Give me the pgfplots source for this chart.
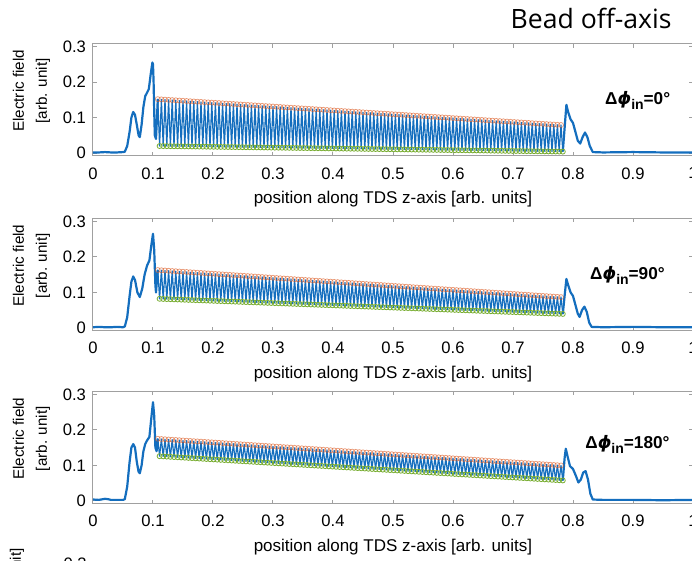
\documentclass[border=0pt]{standalone}
\usepackage{fontspec}
\setmainfont{Liberation Sans}
\newfontfamily\titlefont{Open Sans}
\newfontfamily\dvsans{DejaVu Sans}
\usepackage{pgfplots}
\usepackage{pgfplotstable}
\pgfplotsset{compat=1.18}
\definecolor{mblue}{RGB}{20,110,190}
\definecolor{morange}{RGB}{217,83,25}
\definecolor{mgreen}{RGB}{119,172,48}
\definecolor{axgray}{RGB}{160,160,160}

\pgfplotstableread{
x y1 y2 y3
0.108 0.15200 0.16300 0.17500
0.111 0.02000 0.08200 0.12600
0.114 0.15135 0.16232 0.17433
0.117 0.01986 0.08162 0.12539
0.120 0.15070 0.16164 0.17366
0.123 0.01972 0.08124 0.12478
0.126 0.15005 0.16096 0.17299
0.129 0.01958 0.08086 0.12417
0.132 0.14940 0.16028 0.17232
0.135 0.01944 0.08048 0.12356
0.138 0.14875 0.15960 0.17165
0.141 0.01930 0.08010 0.12295
0.144 0.14810 0.15892 0.17098
0.147 0.01916 0.07972 0.12234
0.150 0.14745 0.15824 0.17031
0.153 0.01902 0.07934 0.12173
0.156 0.14680 0.15756 0.16964
0.159 0.01888 0.07896 0.12112
0.162 0.14615 0.15688 0.16897
0.165 0.01874 0.07858 0.12051
0.168 0.14550 0.15620 0.16830
0.171 0.01860 0.07820 0.11990
0.174 0.14485 0.15552 0.16763
0.177 0.01846 0.07782 0.11929
0.180 0.14420 0.15484 0.16696
0.183 0.01832 0.07744 0.11868
0.186 0.14355 0.15416 0.16629
0.189 0.01818 0.07706 0.11807
0.192 0.14290 0.15348 0.16562
0.195 0.01804 0.07668 0.11746
0.198 0.14225 0.15280 0.16495
0.201 0.01790 0.07630 0.11685
0.204 0.14160 0.15212 0.16428
0.207 0.01776 0.07592 0.11624
0.210 0.14095 0.15144 0.16361
0.213 0.01762 0.07554 0.11563
0.216 0.14030 0.15076 0.16294
0.219 0.01748 0.07516 0.11502
0.222 0.13965 0.15008 0.16227
0.225 0.01734 0.07478 0.11441
0.228 0.13900 0.14940 0.16160
0.231 0.01720 0.07440 0.11380
0.234 0.13835 0.14872 0.16093
0.237 0.01706 0.07402 0.11319
0.240 0.13770 0.14804 0.16026
0.243 0.01692 0.07364 0.11258
0.246 0.13705 0.14736 0.15959
0.249 0.01678 0.07326 0.11197
0.252 0.13640 0.14668 0.15892
0.255 0.01664 0.07288 0.11136
0.258 0.13575 0.14600 0.15825
0.261 0.01650 0.07250 0.11075
0.264 0.13510 0.14532 0.15758
0.267 0.01636 0.07212 0.11014
0.270 0.13445 0.14464 0.15691
0.273 0.01622 0.07174 0.10953
0.276 0.13380 0.14396 0.15624
0.279 0.01608 0.07136 0.10892
0.282 0.13315 0.14328 0.15557
0.285 0.01594 0.07098 0.10831
0.288 0.13250 0.14260 0.15490
0.291 0.01580 0.07060 0.10770
0.294 0.13185 0.14192 0.15423
0.297 0.01566 0.07022 0.10709
0.300 0.13120 0.14124 0.15356
0.303 0.01552 0.06984 0.10648
0.306 0.13055 0.14056 0.15289
0.309 0.01538 0.06946 0.10587
0.312 0.12990 0.13988 0.15222
0.315 0.01524 0.06908 0.10526
0.318 0.12925 0.13920 0.15155
0.321 0.01510 0.06870 0.10465
0.324 0.12860 0.13852 0.15088
0.327 0.01496 0.06832 0.10404
0.330 0.12795 0.13784 0.15021
0.333 0.01482 0.06794 0.10343
0.336 0.12730 0.13716 0.14954
0.339 0.01468 0.06756 0.10282
0.342 0.12665 0.13648 0.14887
0.345 0.01454 0.06718 0.10221
0.348 0.12600 0.13580 0.14820
0.351 0.01440 0.06680 0.10160
0.354 0.12535 0.13512 0.14753
0.357 0.01426 0.06642 0.10099
0.360 0.12470 0.13444 0.14686
0.363 0.01412 0.06604 0.10038
0.366 0.12405 0.13376 0.14619
0.369 0.01398 0.06566 0.09977
0.372 0.12340 0.13308 0.14552
0.375 0.01384 0.06528 0.09916
0.378 0.12275 0.13240 0.14485
0.381 0.01370 0.06490 0.09855
0.384 0.12210 0.13172 0.14418
0.387 0.01356 0.06452 0.09794
0.390 0.12145 0.13104 0.14351
0.393 0.01342 0.06414 0.09733
0.396 0.12080 0.13036 0.14284
0.399 0.01328 0.06376 0.09672
0.402 0.12015 0.12968 0.14217
0.405 0.01314 0.06338 0.09611
0.408 0.11950 0.12900 0.14150
0.411 0.01300 0.06300 0.09550
0.414 0.11885 0.12832 0.14083
0.417 0.01286 0.06262 0.09489
0.420 0.11820 0.12764 0.14016
0.423 0.01272 0.06224 0.09428
0.426 0.11755 0.12696 0.13949
0.429 0.01258 0.06186 0.09367
0.432 0.11690 0.12628 0.13882
0.435 0.01244 0.06148 0.09306
0.438 0.11625 0.12560 0.13815
0.441 0.01230 0.06110 0.09245
0.444 0.11560 0.12492 0.13748
0.447 0.01216 0.06072 0.09184
0.450 0.11495 0.12424 0.13681
0.453 0.01202 0.06034 0.09123
0.456 0.11430 0.12356 0.13614
0.459 0.01188 0.05996 0.09062
0.462 0.11365 0.12288 0.13547
0.465 0.01174 0.05958 0.09001
0.468 0.11300 0.12220 0.13480
0.471 0.01160 0.05920 0.08940
0.474 0.11235 0.12152 0.13413
0.477 0.01146 0.05882 0.08879
0.480 0.11170 0.12084 0.13346
0.483 0.01132 0.05844 0.08818
0.486 0.11105 0.12016 0.13279
0.489 0.01118 0.05806 0.08757
0.492 0.11040 0.11948 0.13212
0.495 0.01104 0.05768 0.08696
0.498 0.10975 0.11880 0.13145
0.501 0.01090 0.05730 0.08635
0.504 0.10910 0.11812 0.13078
0.507 0.01076 0.05692 0.08574
0.510 0.10845 0.11744 0.13011
0.513 0.01062 0.05654 0.08513
0.516 0.10780 0.11676 0.12944
0.519 0.01048 0.05616 0.08452
0.522 0.10715 0.11608 0.12877
0.525 0.01034 0.05578 0.08391
0.528 0.10650 0.11540 0.12810
0.531 0.01020 0.05540 0.08330
0.534 0.10585 0.11472 0.12743
0.537 0.01006 0.05502 0.08269
0.540 0.10520 0.11404 0.12676
0.543 0.00992 0.05464 0.08208
0.546 0.10455 0.11336 0.12609
0.549 0.00978 0.05426 0.08147
0.552 0.10390 0.11268 0.12542
0.555 0.00964 0.05388 0.08086
0.558 0.10325 0.11200 0.12475
0.561 0.00950 0.05350 0.08025
0.564 0.10260 0.11132 0.12408
0.567 0.00936 0.05312 0.07964
0.570 0.10195 0.11064 0.12341
0.573 0.00922 0.05274 0.07903
0.576 0.10130 0.10996 0.12274
0.579 0.00908 0.05236 0.07842
0.582 0.10065 0.10928 0.12207
0.585 0.00894 0.05198 0.07781
0.588 0.10000 0.10860 0.12140
0.591 0.00880 0.05160 0.07720
0.594 0.09935 0.10792 0.12073
0.597 0.00866 0.05122 0.07659
0.600 0.09870 0.10724 0.12006
0.603 0.00852 0.05084 0.07598
0.606 0.09805 0.10656 0.11939
0.609 0.00838 0.05046 0.07537
0.612 0.09740 0.10588 0.11872
0.615 0.00824 0.05008 0.07476
0.618 0.09675 0.10520 0.11805
0.621 0.00810 0.04970 0.07415
0.624 0.09610 0.10452 0.11738
0.627 0.00796 0.04932 0.07354
0.630 0.09545 0.10384 0.11671
0.633 0.00782 0.04894 0.07293
0.636 0.09480 0.10316 0.11604
0.639 0.00768 0.04856 0.07232
0.642 0.09415 0.10248 0.11537
0.645 0.00754 0.04818 0.07171
0.648 0.09350 0.10180 0.11470
0.651 0.00740 0.04780 0.07110
0.654 0.09285 0.10112 0.11403
0.657 0.00726 0.04742 0.07049
0.660 0.09220 0.10044 0.11336
0.663 0.00712 0.04704 0.06988
0.666 0.09155 0.09976 0.11269
0.669 0.00698 0.04666 0.06927
0.672 0.09090 0.09908 0.11202
0.675 0.00684 0.04628 0.06866
0.678 0.09025 0.09840 0.11135
0.681 0.00670 0.04590 0.06805
0.684 0.08960 0.09772 0.11068
0.687 0.00656 0.04552 0.06744
0.690 0.08895 0.09704 0.11001
0.693 0.00642 0.04514 0.06683
0.696 0.08830 0.09636 0.10934
0.699 0.00628 0.04476 0.06622
0.702 0.08765 0.09568 0.10867
0.705 0.00614 0.04438 0.06561
0.708 0.08700 0.09500 0.10800
0.711 0.00600 0.04400 0.06500
0.714 0.08635 0.09432 0.10733
0.717 0.00586 0.04362 0.06439
0.720 0.08570 0.09364 0.10666
0.723 0.00572 0.04324 0.06378
0.726 0.08505 0.09296 0.10599
0.729 0.00558 0.04286 0.06317
0.732 0.08440 0.09228 0.10532
0.735 0.00544 0.04248 0.06256
0.738 0.08375 0.09160 0.10465
0.741 0.00530 0.04210 0.06195
0.744 0.08310 0.09092 0.10398
0.747 0.00516 0.04172 0.06134
0.750 0.08245 0.09024 0.10331
0.753 0.00502 0.04134 0.06073
0.756 0.08180 0.08956 0.10264
0.759 0.00488 0.04096 0.06012
0.762 0.08115 0.08888 0.10197
0.765 0.00474 0.04058 0.05951
0.768 0.08050 0.08820 0.10130
0.771 0.00460 0.04020 0.05890
0.774 0.07985 0.08752 0.10063
0.777 0.00446 0.03982 0.05829
0.780 0.07920 0.08684 0.09996
0.783 0.00432 0.03944 0.05768
}\osc

\newcommand{\dphi}[1]{{\fontsize{8.6}{9}\selectfont\bfseries Δ{\dvsans\bfseries\itshape ϕ}\raisebox{-2.4pt}{\fontsize{7}{7}\selectfont\bfseries in}=#1°}}

\pgfplotsset{
  panel/.style={
    scale only axis, width=300pt, height=56.15pt, anchor=south west,
    xmin=0, xmax=1, ymin=-0.008, ymax=0.308,
    xtick={0,0.1,0.2,0.3,0.4,0.5,0.6,0.7,0.8,0.9,1},
    xticklabels={0,0.1,0.2,0.3,0.4,0.5,0.6,0.7,0.8,0.9,1},
    ytick={0,0.1,0.2,0.3},
    yticklabels={0,0.1,0.2,0.3},
    tick align=inside, tick pos=both,
    major tick length=2pt,
    axis line style={axgray, line width=0.5pt},
    tick style={axgray, line width=0.5pt},
    tick label style={font=\fontsize{8.3}{9}\selectfont},
    xticklabel style={yshift=-2.2pt},
    xlabel={position along TDS z-axis [arb. units]},
    xlabel style={font=\fontsize{8.5}{9}\selectfont, at={(axis description cs:0.5,0)}, anchor=center, yshift=-21.5pt},
    ylabel={Electric field\\{[arb. unit]}},
    ylabel style={font=\fontsize{7.6}{11.5}\selectfont, align=center, at={(axis description cs:-0.06,0.58)}, anchor=south},
    clip=true,
  },
  osc/.style={mblue, line width=0.6pt, line join=round, line cap=round, no markers},
  bl/.style={mblue, line width=1.1pt, line join=round, no markers},
  top/.style={only marks, mark=o, mark size=1.25pt, morange, mark options={line width=0.35pt, draw opacity=0.6},
    x filter/.code={\ifodd\coordindex\let\pgfmathresult\empty\fi}},
  bot/.style={only marks, mark=o, mark size=1.25pt, mgreen, mark options={line width=0.4pt},
    x filter/.code={\ifodd\coordindex\else\let\pgfmathresult\empty\fi}},
}

\begin{document}
\begin{tikzpicture}
% ---------- panel 1 ----------
\begin{axis}[panel, at={(46.5pt,202.5pt)}]
\addplot[bl] coordinates {(0,0.002) (0.01,0.002) (0.02,0.003) (0.03,0.002) (0.04,0.002) (0.05,0.003) (0.053,0.004) (0.057,0.02) (0.061,0.06) (0.064,0.1) (0.067,0.116) (0.07,0.108) (0.073,0.08) (0.076,0.05) (0.078,0.045) (0.081,0.08) (0.084,0.13) (0.087,0.16) (0.09,0.17) (0.093,0.18) (0.096,0.22) (0.099,0.255) (0.1,0.25) (0.101,0.2) (0.102,0.12) (0.103,0.05) (0.105,0.04) (0.108,0.152)};
\addplot[osc] table[x=x,y=y1]{\osc};
\addplot[bl] coordinates {(0.783,0.00432) (0.786,0.07) (0.789,0.136) (0.792,0.115) (0.796,0.095) (0.8,0.085) (0.804,0.06) (0.808,0.035) (0.812,0.027) (0.816,0.045) (0.82,0.058) (0.824,0.045) (0.828,0.02) (0.833,0.003) (0.85,0.002) (0.9,0.003) (0.95,0.002) (1,0.002)};
\addplot[top] table[x=x,y=y1]{\osc};
\addplot[bot] table[x=x,y=y1]{\osc};
\node[anchor=base west, inner sep=0pt] at (axis cs:0.853,0.136) {\dphi{0}};
\end{axis}
% ---------- panel 2 ----------
\begin{axis}[panel, at={(46.5pt,115.1pt)}]
\addplot[bl] coordinates {(0,0.002) (0.01,0.003) (0.02,0.002) (0.03,0.002) (0.04,0.003) (0.05,0.002) (0.053,0.004) (0.057,0.03) (0.061,0.09) (0.064,0.13) (0.067,0.145) (0.07,0.135) (0.074,0.1) (0.078,0.087) (0.082,0.11) (0.086,0.15) (0.09,0.175) (0.094,0.19) (0.097,0.23) (0.1,0.265) (0.102,0.22) (0.104,0.12) (0.105,0.1) (0.108,0.163)};
\addplot[osc] table[x=x,y=y2]{\osc};
\addplot[bl] coordinates {(0.783,0.03944) (0.786,0.09) (0.789,0.138) (0.792,0.12) (0.796,0.1) (0.8,0.09) (0.804,0.065) (0.808,0.04) (0.811,0.031) (0.815,0.05) (0.819,0.06) (0.823,0.045) (0.827,0.015) (0.831,0.003) (0.85,0.002) (0.9,0.003) (0.95,0.002) (1,0.002)};
\addplot[top] table[x=x,y=y2]{\osc};
\addplot[bot] table[x=x,y=y2]{\osc};
\node[anchor=base west, inner sep=0pt] at (axis cs:0.828,0.137) {\dphi{90}};
\end{axis}
% ---------- panel 3 ----------
\begin{axis}[panel, at={(46.5pt,28.6pt)}]
\addplot[bl] coordinates {(0,0.004) (0.01,0.003) (0.02,0.006) (0.025,0.005) (0.03,0.003) (0.04,0.003) (0.05,0.003) (0.053,0.005) (0.057,0.04) (0.061,0.11) (0.064,0.15) (0.067,0.16) (0.07,0.15) (0.073,0.11) (0.076,0.082) (0.078,0.078) (0.081,0.1) (0.084,0.14) (0.087,0.16) (0.09,0.17) (0.094,0.18) (0.097,0.23) (0.1,0.278) (0.102,0.24) (0.104,0.15) (0.106,0.14) (0.108,0.175)};
\addplot[osc] table[x=x,y=y3]{\osc};
\addplot[bl] coordinates {(0.783,0.05768) (0.786,0.12) (0.788,0.147) (0.791,0.125) (0.795,0.098) (0.8,0.09) (0.805,0.07) (0.809,0.052) (0.813,0.06) (0.817,0.08) (0.821,0.084) (0.825,0.06) (0.829,0.02) (0.833,0.004) (0.85,0.003) (0.9,0.003) (0.95,0.002) (1,0.003)};
\addplot[top] table[x=x,y=y3]{\osc};
\addplot[bot] table[x=x,y=y3]{\osc};
\node[anchor=base west, inner sep=0pt] at (axis cs:0.82,0.147) {\dphi{180}};
\end{axis}
% ---------- title and cut-off fragments ----------
\node[anchor=base east, inner sep=0pt, font=\titlefont\fontsize{13.3}{14}\selectfont] at (336pt,266pt) {Bead off-axis};
\node[rotate=90, anchor=east, inner sep=0pt, font=\fontsize{7.6}{9}\selectfont] at (8.5pt,6.5pt) {[arb. unit]};
\node[anchor=north east, inner sep=0pt, font=\fontsize{8.3}{9}\selectfont] at (43.5pt,1.5pt) {0.3};
\pgfresetboundingbox
\path[use as bounding box] (0,0) rectangle (346pt,280.5pt);
\end{tikzpicture}
\end{document}
